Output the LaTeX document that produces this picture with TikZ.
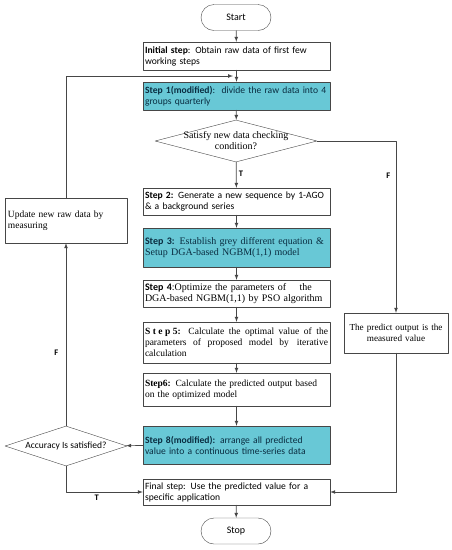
\documentclass[tikz,border=0pt]{standalone}
\usepackage{fontspec}
\setmainfont{Liberation Serif}
\setsansfont{Carlito}
\usetikzlibrary{shapes.geometric,arrows}
\tikzset{>=latex}
\hyphenpenalty=10000
\exhyphenpenalty=10000
\definecolor{stepteal}{RGB}{104,200,214}
\definecolor{linegray}{RGB}{70,70,70}
\definecolor{darkteal}{RGB}{10,45,65}
\tikzset{
  stepbox/.style={draw=linegray,fill=white,minimum width=187pt,text width=183pt,inner sep=2pt,align=left,font=\sffamily\fontsize{9.6}{11}\selectfont},
  modbox/.style={stepbox,fill=stepteal,text=darkteal},
  serifbox/.style={stepbox,font=\rmfamily\fontsize{9.5}{11}\selectfont},
  term/.style={draw=linegray,rounded corners=13pt,minimum width=70pt,minimum height=26pt,font=\sffamily\fontsize{10}{11}\selectfont},
  decision/.style={draw=linegray,diamond,inner sep=0pt},
  flow/.style={->,color=linegray,line width=0.7pt},
  flowlabel/.style={font=\sffamily\bfseries\fontsize{8.5}{9}\selectfont,text=black},
}
\begin{document}
\begin{tikzpicture}[x=1pt,y=-1pt,line cap=round,line join=round]
\useasboundingbox (0,0) rectangle (452,550);
% terminals
\node[term] (start) at (236,17.5) {Start};
\node[term] (stop) at (236,531) {Stop};
% main column
\node[stepbox,minimum height=28pt] (init) at (236.5,56) {\textbf{Initial step}: Obtain raw data of first few working steps};
\node[modbox,minimum height=28pt] (step1) at (236.5,96) {\textbf{Step 1(modified)}:\, divide the raw data into 4 groups quarterly};
\node[decision,minimum width=162pt,minimum height=42pt] (check) at (236,141) {};
\node[font=\rmfamily\fontsize{10}{11}\selectfont,align=center] (checktext) at (check) {Satisfy new data checking\\condition?};
\node[stepbox,minimum height=27pt] (step2) at (236.5,201.5) {\textbf{Step 2:} Generate a new sequence by 1-AGO \& a background series};
\node[modbox,minimum height=39pt,font=\rmfamily\fontsize{10}{11.5}\selectfont] (step3) at (236.5,247.5) {{\sffamily\bfseries Step 3:} Establish grey different equation \& Setup DGA-based NGBM(1,1) model};
\node[serifbox,minimum height=27pt,font=\rmfamily\fontsize{10}{11}\selectfont] (step4) at (236.5,293.5) {{\sffamily\bfseries Step 4}:Optimize the parameters of \hspace{10pt}the DGA-based NGBM(1,1) by PSO algorithm};
\node[serifbox,minimum height=41pt,align=justify] (step5) at (236.5,342.5) {\textbf{S\hspace{2.5pt}t\hspace{2.5pt}e\hspace{2.5pt}p\hspace{2.5pt}5:} Calculate the optimal value of the parameters of proposed model by \,iterative calculation};
\node[serifbox,minimum height=33pt] (step6) at (236.5,389.5) {\textbf{Step6:} Calculate the predicted output based on the optimized model};
\node[modbox,minimum height=38pt] (step8) at (236.5,445) {\textbf{Step 8(modified):} arrange all predicted\\value into a continuous time-series data};
\node[stepbox,minimum height=26pt] (final) at (236.5,492) {Final step: Use the predicted value for a specific application};
% side column
\node[serifbox,minimum width=122pt,text width=116pt,inner sep=3pt,minimum height=45pt] (update) at (66,220.5) {Update new raw data by measuring};
\node[serifbox,minimum width=104pt,text width=102pt,inner sep=1pt,minimum height=40pt,align=center,font=\rmfamily\fontsize{9.2}{11}\selectfont] (predict) at (396,333) {The predict output is the\\measured value};
\node[decision,minimum width=122pt,minimum height=40pt] (acc) at (66,446) {};
\node[font=\sffamily\fontsize{9.5}{10}\selectfont] (acctext) at (acc) {Accuracy Is satisfied?};
\coordinate (loop) at (233,76);
% connectors
\draw[flow] (start) -- (init);
\draw[flow] (init) -- (step1);
\draw[flow] (step1) -- (check);
\draw[flow] (check) -- node[flowlabel,right=-1pt,pos=0.45]{T} (step2);
\draw[flow] (step2) -- (step3);
\draw[flow] (step3) -- (step4);
\draw[flow] (step4) -- (step5);
\draw[flow] (step5) -- (step6);
\draw[flow] (step6) -- (step8);
\draw[flow] (step8) -- (acc);
\draw[flow] (final) -- (stop);
\draw[flow] (acc) -- node[flowlabel,left=4pt,pos=0.4]{F} (update);
\draw[flow] (update) |- (loop);
\draw[flow] (check.east) -| node[flowlabel,pos=0.6,left=2pt]{F} (predict.north);
\draw[flow] (predict.south) |- (final.east);
\draw[flow] (acc.south) |- node[flowlabel,pos=0.7,below=-1pt]{T} (final.west);
\end{tikzpicture}
\end{document}
